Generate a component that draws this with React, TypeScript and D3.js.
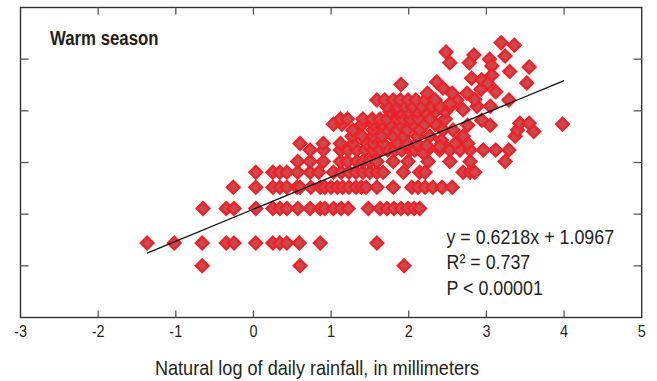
import React from 'react';
import * as d3 from 'd3';

const W = 657;
const H = 381;

// Axis ticks
const xTicks = [-3, -2, -1, 0, 1, 2, 3, 4, 5];
const yTicks = [0, 1, 2, 3, 4];

// Least-squares fit reported in the annotation
const slope = 0.6218;
const intercept = 1.0967;
const fitSpan = [-1.37, 4.0];
const statLines = ['y = 0.6218x + 1.0967', 'R\u00B2 = 0.737', 'P < 0.00001'];

// Observations: [ln daily rainfall (mm), ln response]
const observations: [number, number][] = [
  [-0.66, 0], [0.6, 0], [1.94, 0],
  [-1.37, 0.44], [-1.02, 0.44], [-0.66, 0.44], [-0.35, 0.44], [-0.25, 0.44], [0.03, 0.44], [0.25, 0.44], [0.34, 0.44], [0.43, 0.44], [0.59, 0.44], [0.86, 0.44], [1.59, 0.44],
  [-0.65, 1.11], [-0.35, 1.11], [-0.25, 1.11], [0.03, 1.11], [0.25, 1.11], [0.34, 1.11], [0.43, 1.11], [0.57, 1.11], [0.73, 1.11], [0.86, 1.11], [0.92, 1.11], [1.03, 1.11], [1.13, 1.11], [1.22, 1.11], [1.48, 1.11], [1.63, 1.11], [1.72, 1.11], [1.81, 1.11], [1.9, 1.11], [1.99, 1.11], [2.07, 1.11], [2.14, 1.11],
  [-0.26, 1.52], [0.03, 1.52], [0.25, 1.52], [0.34, 1.52], [0.43, 1.52], [0.56, 1.52], [0.6, 1.52], [0.74, 1.52], [0.86, 1.52], [0.92, 1.52], [1.0, 1.52], [1.08, 1.52], [1.15, 1.52], [1.23, 1.52], [1.32, 1.52], [1.39, 1.52], [1.45, 1.52], [1.59, 1.52], [1.8, 1.52], [2.04, 1.52], [2.12, 1.52], [2.21, 1.52], [2.31, 1.52], [2.43, 1.52], [2.56, 1.52],
  [0.03, 1.81], [0.25, 1.81], [0.34, 1.81], [0.43, 1.81], [0.57, 1.81], [0.73, 1.81], [0.84, 1.81], [1.03, 1.81], [1.13, 1.81], [1.23, 1.81], [1.32, 1.81], [1.41, 1.81], [1.5, 1.81], [1.59, 1.81], [1.67, 1.81], [1.93, 1.81], [2.14, 1.81], [2.21, 1.81], [2.7, 1.81], [2.79, 1.81], [2.85, 1.81],
  [0.57, 2.02], [0.73, 2.02], [0.9, 2.02], [1.12, 2.02], [1.21, 2.02], [1.33, 2.02], [1.41, 2.02], [1.5, 2.02], [1.59, 2.02], [1.8, 2.02], [1.99, 2.02], [2.25, 2.02], [2.53, 2.02], [2.79, 2.02], [3.24, 2.02],
  [0.73, 2.24], [0.9, 2.24], [1.12, 2.24], [1.22, 2.24], [1.33, 2.24], [1.44, 2.24], [1.54, 2.24], [1.63, 2.24], [1.73, 2.24], [1.82, 2.24], [1.91, 2.24], [2.02, 2.24], [2.08, 2.24], [2.17, 2.24], [2.24, 2.24], [2.4, 2.24], [2.53, 2.24], [2.66, 2.24], [2.79, 2.24], [2.96, 2.24], [3.12, 2.24], [3.29, 2.24],
  [0.6, 2.37], [0.9, 2.37], [1.12, 2.37], [1.28, 2.37], [1.46, 2.37], [1.54, 2.37], [1.67, 2.37], [1.85, 2.37], [1.98, 2.37], [2.11, 2.37], [2.43, 2.37], [2.6, 2.37], [2.76, 2.37],
  [1.27, 2.51], [1.4, 2.51], [1.54, 2.51], [1.66, 2.51], [1.8, 2.51], [1.93, 2.51], [2.11, 2.51], [2.27, 2.51], [2.7, 2.51], [3.37, 2.51],
  [1.28, 2.63], [1.54, 2.63], [1.72, 2.63], [1.86, 2.63], [1.98, 2.63], [2.14, 2.63], [2.44, 2.63], [2.57, 2.63], [3.4, 2.63], [3.61, 2.6],
  [1.03, 2.74], [1.14, 2.74], [1.4, 2.74], [1.54, 2.74], [1.66, 2.74], [1.76, 2.74], [1.89, 2.74], [2.05, 2.74], [2.21, 2.74], [2.34, 2.74], [2.76, 2.72], [3.05, 2.72], [3.43, 2.76], [3.55, 2.76], [3.98, 2.74],
  [1.12, 2.84], [1.21, 2.84], [1.41, 2.84], [1.53, 2.84], [1.63, 2.84], [1.72, 2.84], [1.85, 2.84], [1.93, 2.84], [2.02, 2.84], [2.12, 2.84], [2.27, 2.84], [2.47, 2.84], [2.94, 2.82],
  [1.76, 2.98], [1.85, 2.98], [1.89, 2.98], [1.99, 2.98], [2.11, 2.98], [2.21, 2.98], [2.34, 2.98], [2.47, 2.98], [2.7, 3.02],
  [1.72, 3.08], [1.85, 3.08], [1.95, 3.08], [2.05, 3.08], [2.17, 3.08], [2.3, 3.08], [2.4, 3.08], [2.53, 3.08], [2.88, 3.09], [3.05, 3.09],
  [1.59, 3.21], [1.69, 3.21], [1.8, 3.21], [1.89, 3.21], [1.99, 3.21], [2.09, 3.21], [2.21, 3.21], [2.34, 3.21], [2.62, 3.21], [2.85, 3.22], [3.29, 3.21],
  [2.53, 3.14], [2.24, 3.34], [2.44, 3.44], [2.56, 3.34], [2.75, 3.34], [2.93, 3.42], [3.12, 3.37],
  [3.19, 4.32], [3.36, 4.27], [2.48, 4.14], [2.84, 4.08], [3.24, 4.06], [2.53, 3.93], [2.78, 3.93], [3.04, 4.0],
  [3.07, 3.87], [3.55, 3.85], [3.3, 3.76], [3.07, 3.69], [2.81, 3.63], [2.94, 3.6], [3.02, 3.53], [3.52, 3.54],
  [1.9, 3.51], [2.36, 3.56], [2.42, 2.43], [2.19, 2.18], [2.23, 2.33], [2.4, 2.31],
];

const INK = '#231f20';
const FONT = "'Liberation Sans', Arial, sans-serif";

export default function App() {
  const x = d3.scaleLinear().domain([-3, 5]).range([20.5, 641.7]);
  const y = d3.scaleLinear().domain([-1, 5]).range([317.5, 7.5]);
  const [x0, x1] = x.range();
  const [yb, yt] = y.range();

  const r = 6.3;
  const diamond = `M0,${-r}L${r},0L0,${r}L${-r},0Z`;

  const fit = d3
    .line<number>()
    .x((v) => x(v))
    .y((v) => y(slope * v + intercept));

  const txt = (tx: number, ty: number, sx: number) => `translate(${tx},${ty}) scale(${sx},1)`;

  return (
    <svg
      width={W}
      height={H}
      style={{ position: 'absolute', left: 0, top: 0, background: '#fff' }}
      fontFamily={FONT}
    >
      <rect x={0} y={0} width={W} height={H} fill="#fff" />

      {/* markers */}
      <g>
        {observations.map(([a, b], i) => (
          <path
            key={i}
            d={diamond}
            transform={`translate(${x(a)},${y(b)})`}
            fill="#c9494c"
            stroke="#ee2128"
            strokeWidth={2.4}
          />
        ))}
      </g>

      {/* fitted line */}
      <path d={fit(fitSpan) ?? ''} fill="none" stroke="#111" strokeWidth={1.3} />

      {/* frame */}
      <rect x={x0} y={yt} width={x1 - x0} height={yb - yt} fill="none" stroke="#333" strokeWidth={1.4} />

      {/* inward ticks */}
      {xTicks.slice(1, -1).map((t) => (
        <g key={`xt${t}`} stroke="#555" strokeWidth={1.3}>
          <line x1={x(t)} x2={x(t)} y1={yb} y2={yb - 7} />
          <line x1={x(t)} x2={x(t)} y1={yt} y2={yt + 7} />
        </g>
      ))}
      {yTicks.map((t) => (
        <g key={`yt${t}`} stroke="#555" strokeWidth={1.3}>
          <line x1={x0} x2={x0 + 8} y1={y(t)} y2={y(t)} />
          <line x1={x1} x2={x1 - 8} y1={y(t)} y2={y(t)} />
        </g>
      ))}

      {/* tick labels */}
      {xTicks.map((t) => (
        <text key={`xl${t}`} transform={txt(x(t), 337, 0.85)} textAnchor="middle" fontSize={17} fill={INK}>
          {t}
        </text>
      ))}

      {/* axis title */}
      <text transform={txt(317, 375, 0.93)} textAnchor="middle" fontSize={19.5} fill={INK}>
        Natural log of daily rainfall, in millimeters
      </text>

      {/* panel label */}
      <text transform={txt(50, 44.5, 0.8)} fontSize={21} fontWeight="bold" fill={INK}>
        Warm season
      </text>

      {/* regression statistics */}
      {statLines.map((s, i) => (
        <text key={s} transform={txt(446.5, 243.5 + i * 25.8, 0.85)} fontSize={21} fill={INK}>
          {s}
        </text>
      ))}
    </svg>
  );
}
